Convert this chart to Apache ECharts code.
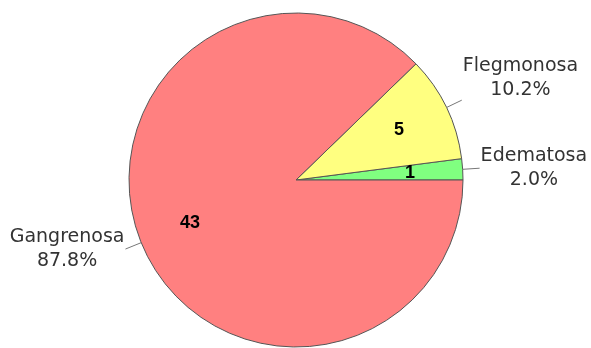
<!DOCTYPE html>
<html><head><meta charset="utf-8">
<script src="https://cdn.jsdelivr.net/npm/echarts@6/dist/echarts.min.js"></script>
<style>html,body{margin:0;padding:0;background:#fff}#c{width:591px;height:348px}</style>
</head><body><div id="c"></div>
<script>
const categories = ['Edematosa', 'Flegmonosa', 'Gangrenosa'];
const counts = [1, 5, 43];
const colors = ['#80FF80', '#FFFF80', '#FF8080'];

const chart = echarts.init(document.getElementById('c'), null, {renderer: 'canvas'});
const data = categories.map((n, i) => ({name: n, value: counts[i], itemStyle: {color: colors[i]}}));
const center = [296, 180];
const R = 167;
chart.setOption({
  animation: false,
  series: [
    {
      type: 'pie', center: center, radius: [0, R], startAngle: 0, clockwise: false,
      data: data,
      itemStyle: {borderColor: '#555', borderWidth: 1},
      label: {
        show: true, position: 'outside', formatter: p => p.name + '\n' + p.percent.toFixed(1) + '%',
        fontFamily: 'DejaVu Sans, sans-serif', fontSize: 19, color: '#333', lineHeight: 24,
        distanceToLabelLine: 1, overflow: 'none'
      },
      labelLine: {show: true, length: 17, length2: 0, lineStyle: {color: '#777', width: 1}},
      labelLayout: function (p) {
        const r = p.labelRect;
        const cy = r.y + r.height / 2;
        // Flegmonosa's text sits above the end of its leader line
        const y = p.dataIndex === 1 ? cy - r.height / 2 + 2 : cy;
        return {
          x: r.x + r.width / 2, y: y, align: 'center', verticalAlign: 'middle',
          labelLinePoints: p.labelLinePoints
        };
      },
      emphasis: {disabled: true}
    },
    {
      type: 'pie', center: center, radius: [R / 3, R], startAngle: 0, clockwise: false, silent: true,
      data: categories.map((n, i) => ({name: n, value: counts[i]})),
      itemStyle: {color: 'transparent', borderWidth: 0},
      label: {
        show: true, position: 'inside', formatter: p => String(p.value),
        fontFamily: 'Liberation Sans, Arial, sans-serif', fontSize: 18, fontWeight: 'bold', color: '#000'
      },
      labelLine: {show: false},
      emphasis: {disabled: true}
    }
  ]
});
</script></body></html>
